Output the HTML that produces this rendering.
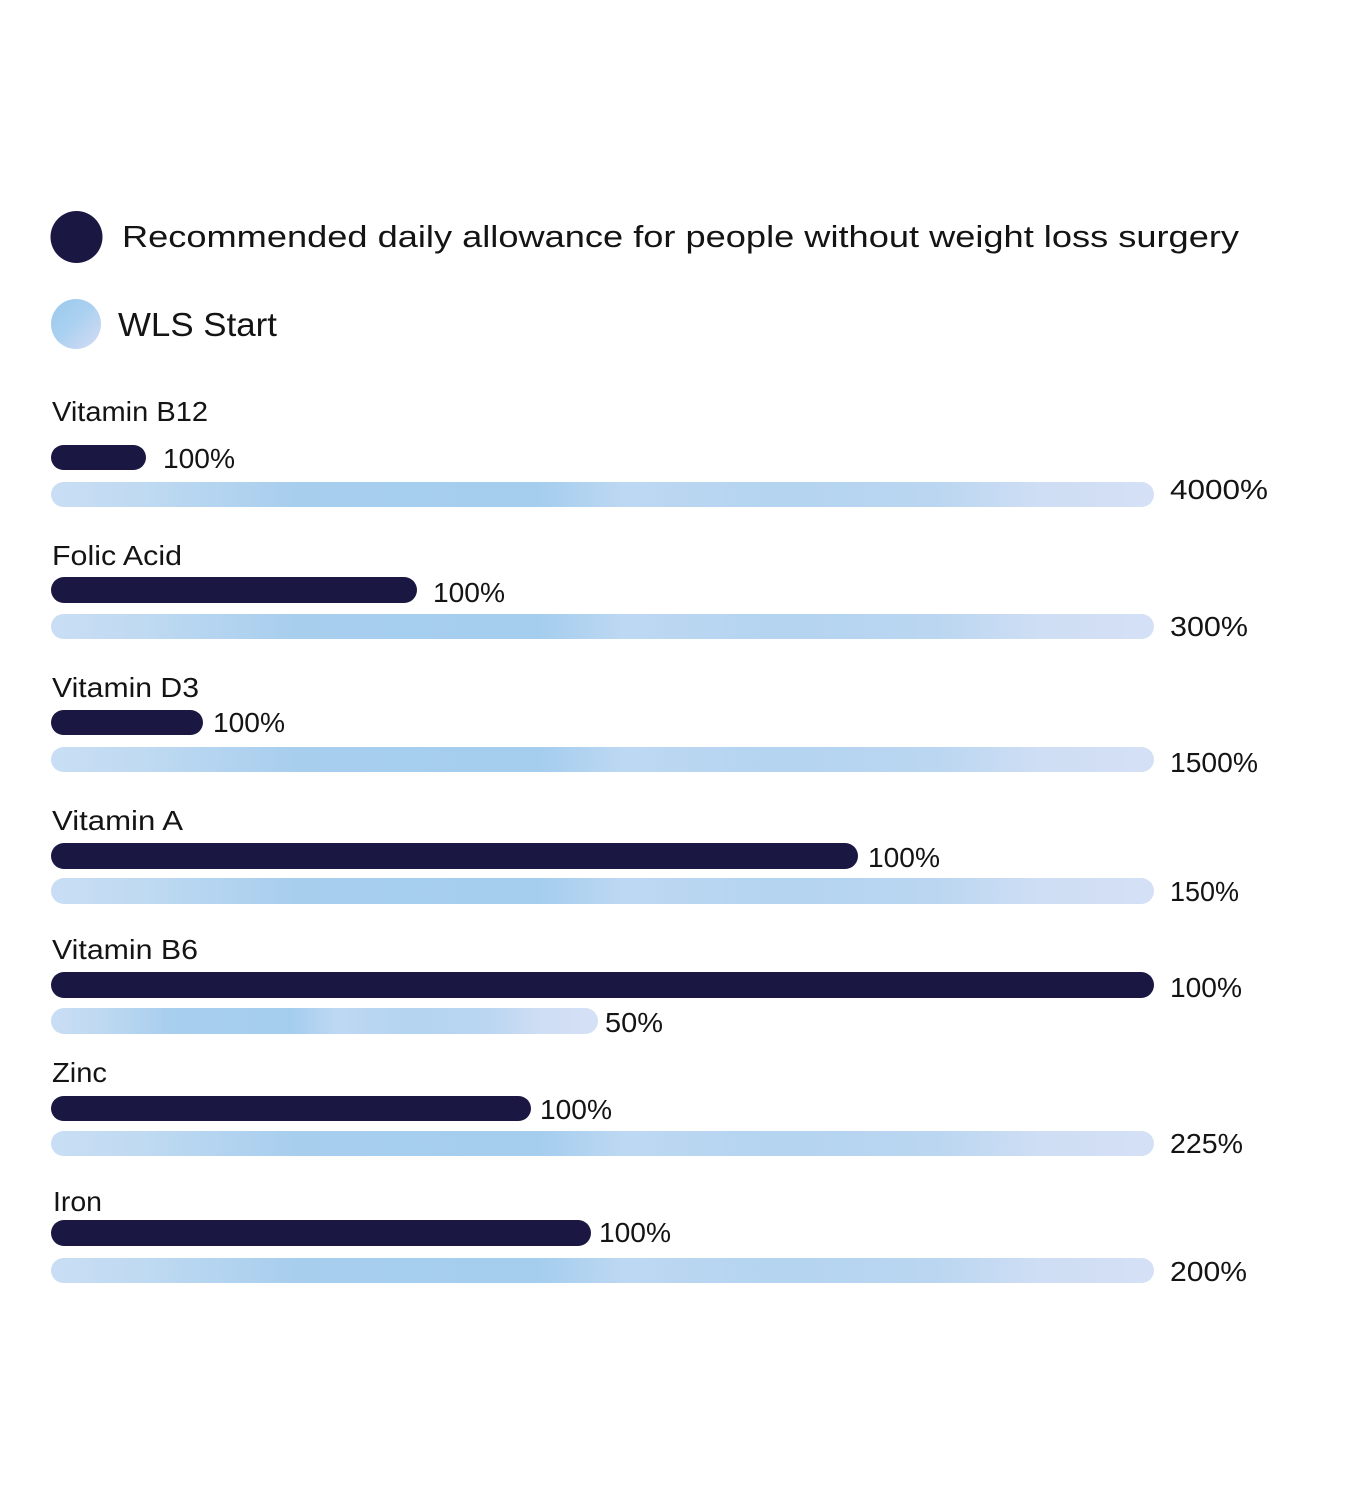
<!DOCTYPE html>
<html>
<head>
<meta charset="utf-8">
<style>
  html, body { margin: 0; padding: 0; background: #ffffff; }
  svg { display: block; }
  text { font-family: "Liberation Sans", "DejaVu Sans", sans-serif; fill: #141414; }
</style>
</head>
<body>
<svg width="1366" height="1500" viewBox="0 0 1366 1500" xmlns="http://www.w3.org/2000/svg">
  <defs>
    <linearGradient id="lb" x1="0" y1="0" x2="1" y2="0">
      <stop offset="0" stop-color="#c9def4"/>
      <stop offset="0.08" stop-color="#c0daf2"/>
      <stop offset="0.22" stop-color="#a8ceee"/>
      <stop offset="0.44" stop-color="#a4cdee"/>
      <stop offset="0.52" stop-color="#bdd8f2"/>
      <stop offset="0.66" stop-color="#b4d4f0"/>
      <stop offset="0.80" stop-color="#bad6f1"/>
      <stop offset="0.90" stop-color="#cfdef4"/>
      <stop offset="1" stop-color="#d4e0f5"/>
    </linearGradient>
    <linearGradient id="lc" x1="0" y1="0" x2="1" y2="1">
      <stop offset="0" stop-color="#9bc9ed"/>
      <stop offset="0.45" stop-color="#a9d0f0"/>
      <stop offset="1" stop-color="#d6dcf4"/>
    </linearGradient>
  </defs>

  <!-- Legend -->
  <circle cx="76.5" cy="237" r="26" fill="#1a1743"/>
  <text x="122" y="247" font-size="31" textLength="1117" lengthAdjust="spacingAndGlyphs">Recommended daily allowance for people without weight loss surgery</text>
  <circle cx="76" cy="324" r="25" fill="url(#lc)"/>
  <text x="118" y="336" font-size="33" textLength="159" lengthAdjust="spacingAndGlyphs">WLS Start</text>

  <!-- Vitamin B12 -->
  <text x="52" y="421" font-size="28" textLength="156" lengthAdjust="spacingAndGlyphs">Vitamin B12</text>
  <rect x="51" y="445" width="95" height="25" rx="12.5" fill="#1a1743"/>
  <text x="163" y="468" font-size="28" textLength="72" lengthAdjust="spacingAndGlyphs">100%</text>
  <rect x="51" y="482" width="1103" height="25" rx="12.5" fill="url(#lb)"/>
  <text x="1170" y="499" font-size="28" textLength="98" lengthAdjust="spacingAndGlyphs">4000%</text>

  <!-- Folic Acid -->
  <text x="52" y="565" font-size="28" textLength="130" lengthAdjust="spacingAndGlyphs">Folic Acid</text>
  <rect x="51" y="577" width="366" height="26" rx="13" fill="#1a1743"/>
  <text x="433" y="602" font-size="28" textLength="72" lengthAdjust="spacingAndGlyphs">100%</text>
  <rect x="51" y="614" width="1103" height="25" rx="12.5" fill="url(#lb)"/>
  <text x="1170" y="636" font-size="28" textLength="78" lengthAdjust="spacingAndGlyphs">300%</text>

  <!-- Vitamin D3 -->
  <text x="52" y="697" font-size="28" textLength="147" lengthAdjust="spacingAndGlyphs">Vitamin D3</text>
  <rect x="51" y="710" width="152" height="25" rx="12.5" fill="#1a1743"/>
  <text x="213" y="732" font-size="28" textLength="72" lengthAdjust="spacingAndGlyphs">100%</text>
  <rect x="51" y="747" width="1103" height="25" rx="12.5" fill="url(#lb)"/>
  <text x="1170" y="772" font-size="28" textLength="88" lengthAdjust="spacingAndGlyphs">1500%</text>

  <!-- Vitamin A -->
  <text x="52" y="830" font-size="28" textLength="131" lengthAdjust="spacingAndGlyphs">Vitamin A</text>
  <rect x="51" y="843" width="807" height="26" rx="13" fill="#1a1743"/>
  <text x="868" y="867" font-size="28" textLength="72" lengthAdjust="spacingAndGlyphs">100%</text>
  <rect x="51" y="878" width="1103" height="26" rx="13" fill="url(#lb)"/>
  <text x="1170" y="901" font-size="28" textLength="69" lengthAdjust="spacingAndGlyphs">150%</text>

  <!-- Vitamin B6 -->
  <text x="52" y="959" font-size="28" textLength="146" lengthAdjust="spacingAndGlyphs">Vitamin B6</text>
  <rect x="51" y="972" width="1103" height="26" rx="13" fill="#1a1743"/>
  <text x="1170" y="997" font-size="28" textLength="72" lengthAdjust="spacingAndGlyphs">100%</text>
  <rect x="51" y="1008" width="547" height="26" rx="13" fill="url(#lb)"/>
  <text x="605" y="1032" font-size="28" textLength="58" lengthAdjust="spacingAndGlyphs">50%</text>

  <!-- Zinc -->
  <text x="52" y="1082" font-size="28" textLength="55" lengthAdjust="spacingAndGlyphs">Zinc</text>
  <rect x="51" y="1096" width="480" height="25" rx="12.5" fill="#1a1743"/>
  <text x="540" y="1119" font-size="28" textLength="72" lengthAdjust="spacingAndGlyphs">100%</text>
  <rect x="51" y="1131" width="1103" height="25" rx="12.5" fill="url(#lb)"/>
  <text x="1170" y="1153" font-size="28" textLength="73" lengthAdjust="spacingAndGlyphs">225%</text>

  <!-- Iron -->
  <text x="53" y="1211" font-size="28" textLength="49" lengthAdjust="spacingAndGlyphs">Iron</text>
  <rect x="51" y="1220" width="540" height="26" rx="13" fill="#1a1743"/>
  <text x="599" y="1242" font-size="28" textLength="72" lengthAdjust="spacingAndGlyphs">100%</text>
  <rect x="51" y="1258" width="1103" height="25" rx="12.5" fill="url(#lb)"/>
  <text x="1170" y="1281" font-size="28" textLength="77" lengthAdjust="spacingAndGlyphs">200%</text>
</svg>
</body>
</html>
